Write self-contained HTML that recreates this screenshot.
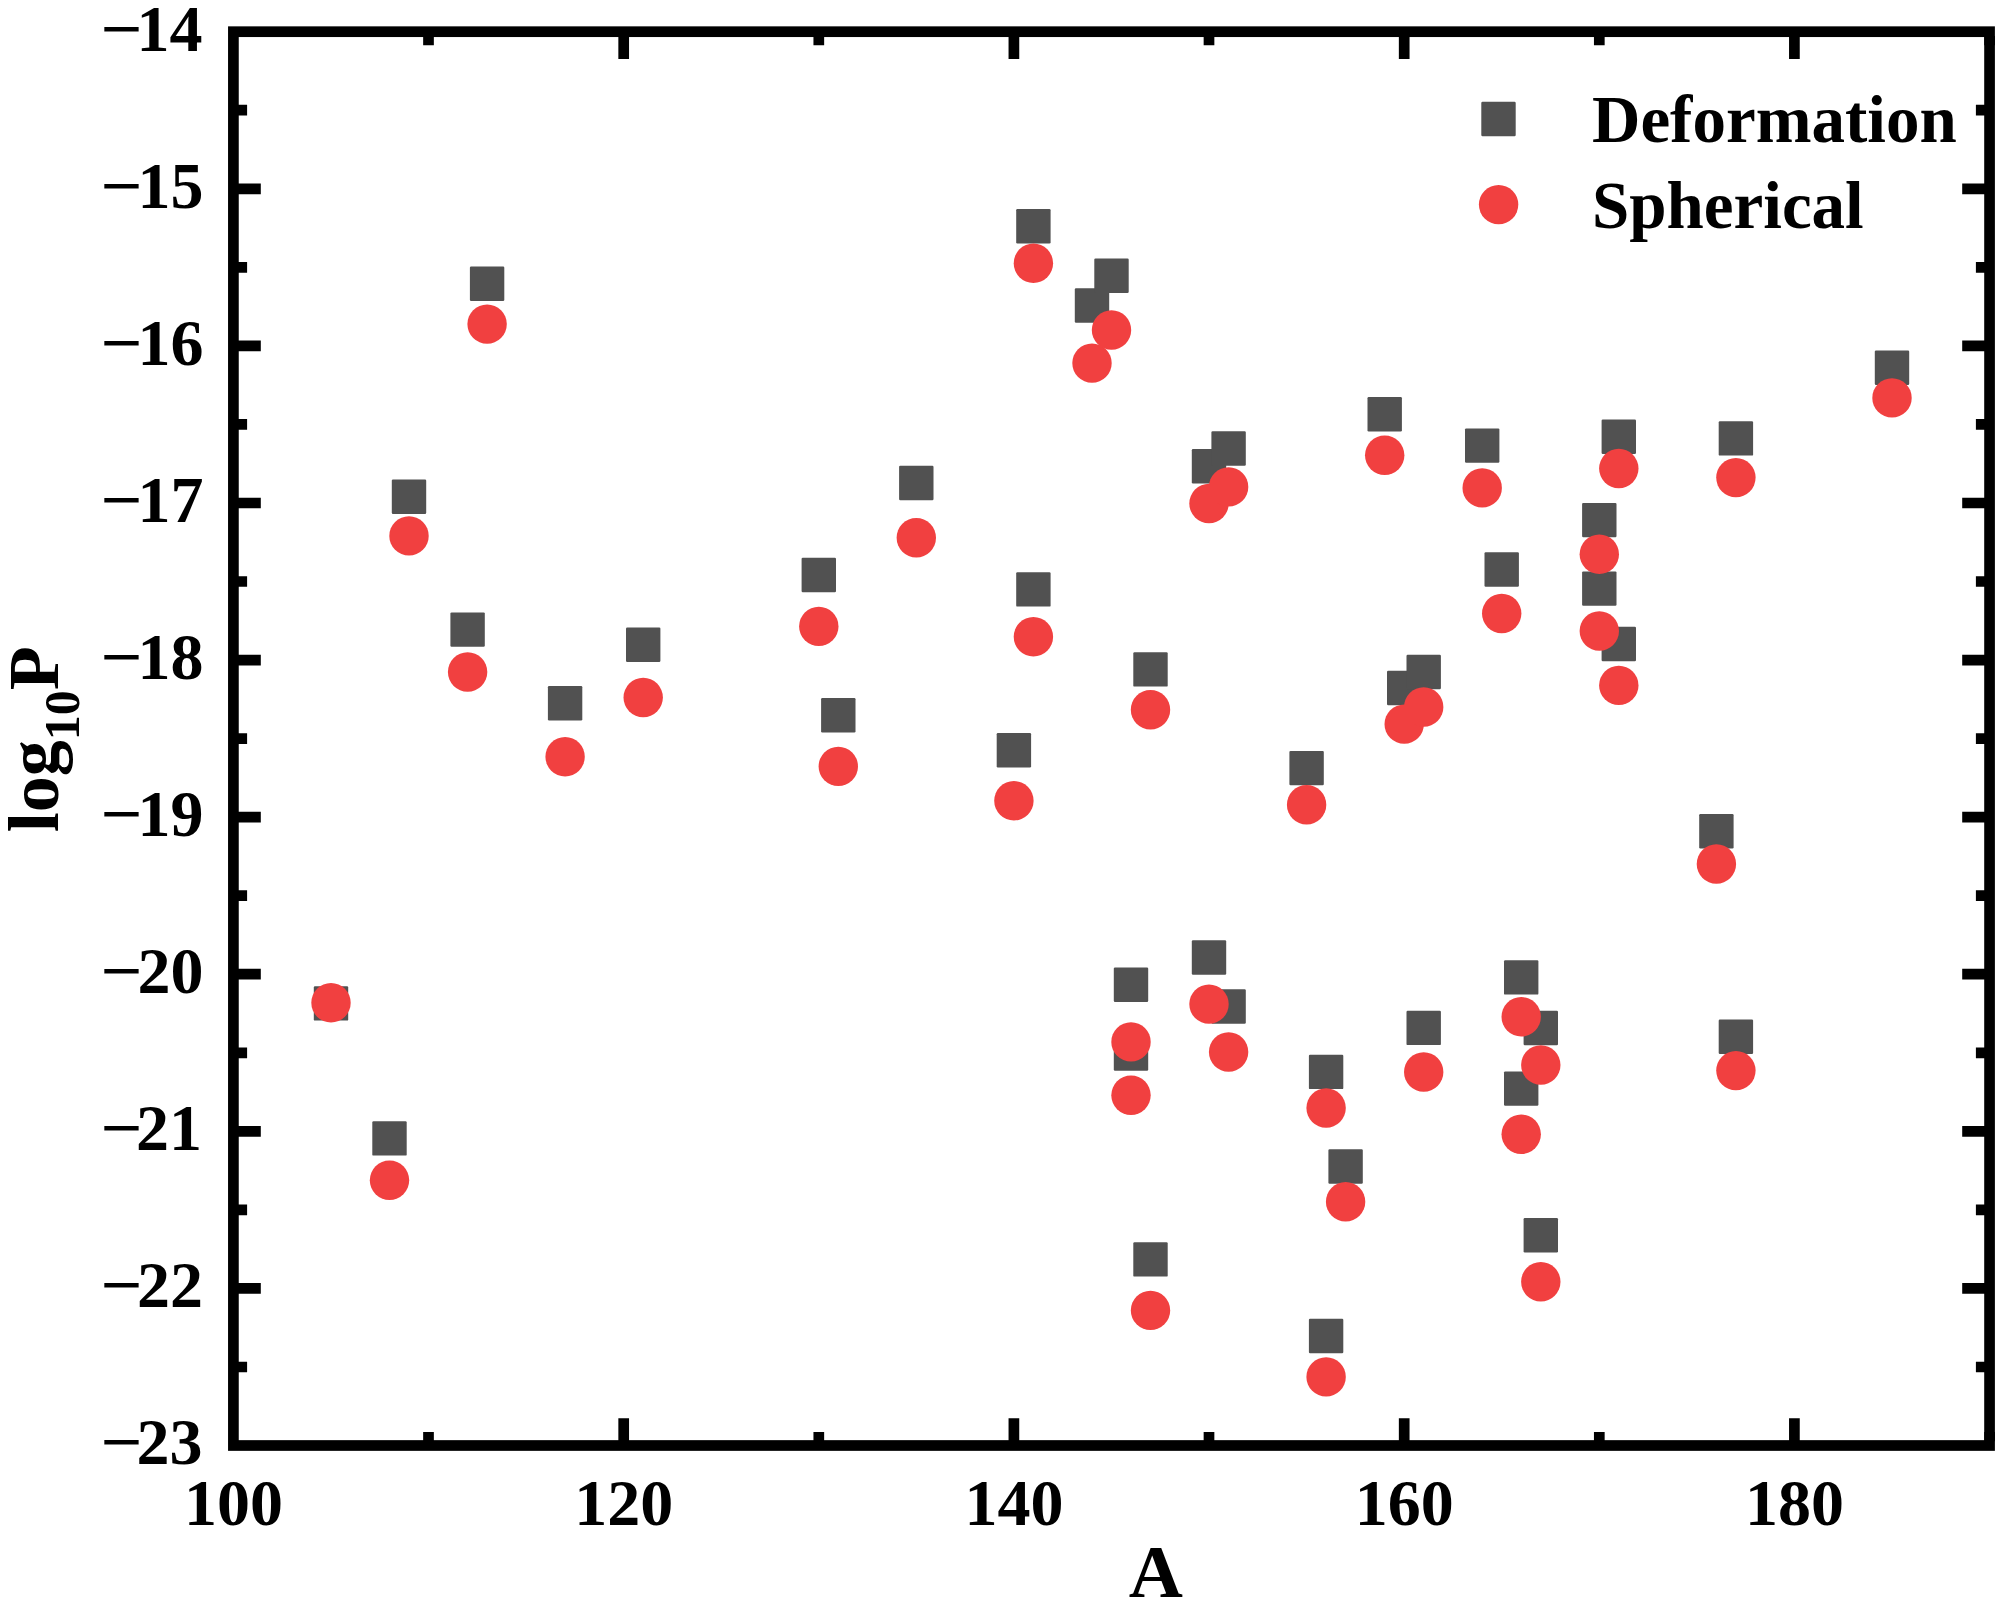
<!DOCTYPE html>
<html><head><meta charset="utf-8"><title>log10P vs A</title>
<style>
html,body{margin:0;padding:0;background:#fff;}
body{width:2005px;height:1605px;overflow:hidden;}
svg{display:block;}
text{font-family:"Liberation Serif","Times New Roman",serif;font-weight:bold;fill:#000;}
</style></head><body>
<svg width="2005" height="1605" viewBox="0 0 2005 1605">
<rect width="2005" height="1605" fill="#fff"/>
<g fill="#515151">
<rect x="313.8" y="986.2" width="34.4" height="34.4" rx="1.2"/>
<rect x="372.3" y="1121.2" width="34.4" height="34.4" rx="1.2"/>
<rect x="391.8" y="479.5" width="34.4" height="34.4" rx="1.2"/>
<rect x="450.4" y="612.4" width="34.4" height="34.4" rx="1.2"/>
<rect x="469.9" y="266.6" width="34.4" height="34.4" rx="1.2"/>
<rect x="547.9" y="686.0" width="34.4" height="34.4" rx="1.2"/>
<rect x="626.0" y="627.5" width="34.4" height="34.4" rx="1.2"/>
<rect x="801.6" y="557.8" width="34.4" height="34.4" rx="1.2"/>
<rect x="821.1" y="698.0" width="34.4" height="34.4" rx="1.2"/>
<rect x="899.1" y="465.8" width="34.4" height="34.4" rx="1.2"/>
<rect x="996.7" y="733.0" width="34.4" height="34.4" rx="1.2"/>
<rect x="1016.2" y="209.1" width="34.4" height="34.4" rx="1.2"/>
<rect x="1016.2" y="572.2" width="34.4" height="34.4" rx="1.2"/>
<rect x="1074.8" y="288.3" width="34.4" height="34.4" rx="1.2"/>
<rect x="1094.3" y="258.5" width="34.4" height="34.4" rx="1.2"/>
<rect x="1113.8" y="967.6" width="34.4" height="34.4" rx="1.2"/>
<rect x="1113.8" y="1036.3" width="34.4" height="34.4" rx="1.2"/>
<rect x="1133.3" y="652.2" width="34.4" height="34.4" rx="1.2"/>
<rect x="1133.3" y="1242.2" width="34.4" height="34.4" rx="1.2"/>
<rect x="1191.8" y="449.1" width="34.4" height="34.4" rx="1.2"/>
<rect x="1191.8" y="940.3" width="34.4" height="34.4" rx="1.2"/>
<rect x="1211.4" y="431.3" width="34.4" height="34.4" rx="1.2"/>
<rect x="1211.4" y="989.3" width="34.4" height="34.4" rx="1.2"/>
<rect x="1289.4" y="750.9" width="34.4" height="34.4" rx="1.2"/>
<rect x="1308.9" y="1054.7" width="34.4" height="34.4" rx="1.2"/>
<rect x="1308.9" y="1318.8" width="34.4" height="34.4" rx="1.2"/>
<rect x="1328.4" y="1149.3" width="34.4" height="34.4" rx="1.2"/>
<rect x="1367.5" y="397.1" width="34.4" height="34.4" rx="1.2"/>
<rect x="1387.0" y="670.8" width="34.4" height="34.4" rx="1.2"/>
<rect x="1406.5" y="654.8" width="34.4" height="34.4" rx="1.2"/>
<rect x="1406.5" y="1010.7" width="34.4" height="34.4" rx="1.2"/>
<rect x="1465.0" y="428.4" width="34.4" height="34.4" rx="1.2"/>
<rect x="1484.5" y="552.3" width="34.4" height="34.4" rx="1.2"/>
<rect x="1504.0" y="960.2" width="34.4" height="34.4" rx="1.2"/>
<rect x="1504.0" y="1071.4" width="34.4" height="34.4" rx="1.2"/>
<rect x="1523.6" y="1010.8" width="34.4" height="34.4" rx="1.2"/>
<rect x="1523.6" y="1218.1" width="34.4" height="34.4" rx="1.2"/>
<rect x="1582.1" y="502.9" width="34.4" height="34.4" rx="1.2"/>
<rect x="1582.1" y="571.4" width="34.4" height="34.4" rx="1.2"/>
<rect x="1601.6" y="419.5" width="34.4" height="34.4" rx="1.2"/>
<rect x="1601.6" y="626.8" width="34.4" height="34.4" rx="1.2"/>
<rect x="1699.2" y="814.1" width="34.4" height="34.4" rx="1.2"/>
<rect x="1718.7" y="421.2" width="34.4" height="34.4" rx="1.2"/>
<rect x="1718.7" y="1019.5" width="34.4" height="34.4" rx="1.2"/>
<rect x="1874.8" y="350.6" width="34.4" height="34.4" rx="1.2"/>
</g>
<g fill="#F14040">
<circle cx="331.0" cy="1002.8" r="19.7"/>
<circle cx="389.5" cy="1180.2" r="19.7"/>
<circle cx="409.0" cy="535.9" r="19.7"/>
<circle cx="467.6" cy="672.0" r="19.7"/>
<circle cx="487.1" cy="324.1" r="19.7"/>
<circle cx="565.1" cy="756.8" r="19.7"/>
<circle cx="643.2" cy="697.5" r="19.7"/>
<circle cx="818.8" cy="626.4" r="19.7"/>
<circle cx="838.3" cy="766.4" r="19.7"/>
<circle cx="916.3" cy="537.7" r="19.7"/>
<circle cx="1013.9" cy="800.8" r="19.7"/>
<circle cx="1033.4" cy="263.3" r="19.7"/>
<circle cx="1033.4" cy="636.8" r="19.7"/>
<circle cx="1092.0" cy="363.1" r="19.7"/>
<circle cx="1111.5" cy="330.0" r="19.7"/>
<circle cx="1131.0" cy="1041.9" r="19.7"/>
<circle cx="1131.0" cy="1095.2" r="19.7"/>
<circle cx="1150.5" cy="709.7" r="19.7"/>
<circle cx="1150.5" cy="1310.4" r="19.7"/>
<circle cx="1209.0" cy="503.5" r="19.7"/>
<circle cx="1209.0" cy="1004.1" r="19.7"/>
<circle cx="1228.6" cy="486.9" r="19.7"/>
<circle cx="1228.6" cy="1052.0" r="19.7"/>
<circle cx="1306.6" cy="804.7" r="19.7"/>
<circle cx="1326.1" cy="1108.0" r="19.7"/>
<circle cx="1326.1" cy="1376.9" r="19.7"/>
<circle cx="1345.6" cy="1201.8" r="19.7"/>
<circle cx="1384.7" cy="455.2" r="19.7"/>
<circle cx="1404.2" cy="724.1" r="19.7"/>
<circle cx="1423.7" cy="707.0" r="19.7"/>
<circle cx="1423.7" cy="1072.0" r="19.7"/>
<circle cx="1482.2" cy="487.9" r="19.7"/>
<circle cx="1501.7" cy="613.5" r="19.7"/>
<circle cx="1521.2" cy="1016.8" r="19.7"/>
<circle cx="1521.2" cy="1134.3" r="19.7"/>
<circle cx="1540.8" cy="1065.0" r="19.7"/>
<circle cx="1540.8" cy="1281.8" r="19.7"/>
<circle cx="1599.3" cy="554.3" r="19.7"/>
<circle cx="1599.3" cy="631.0" r="19.7"/>
<circle cx="1618.8" cy="468.5" r="19.7"/>
<circle cx="1618.8" cy="685.4" r="19.7"/>
<circle cx="1716.4" cy="864.0" r="19.7"/>
<circle cx="1735.9" cy="477.6" r="19.7"/>
<circle cx="1735.9" cy="1070.6" r="19.7"/>
<circle cx="1892.0" cy="397.9" r="19.7"/>
</g>
<path d="M237.8 110.2H247.1M1985.2 110.2H1975.9M237.8 188.8H260.8M1985.2 188.8H1962.2M237.8 267.3H247.1M1985.2 267.3H1975.9M237.8 345.9H260.8M1985.2 345.9H1962.2M237.8 424.4H247.1M1985.2 424.4H1975.9M237.8 503.0H260.8M1985.2 503.0H1962.2M237.8 581.5H247.1M1985.2 581.5H1975.9M237.8 660.1H260.8M1985.2 660.1H1962.2M237.8 738.6H247.1M1985.2 738.6H1975.9M237.8 817.1H260.8M1985.2 817.1H1962.2M237.8 895.7H247.1M1985.2 895.7H1975.9M237.8 974.2H260.8M1985.2 974.2H1962.2M237.8 1052.8H247.1M1985.2 1052.8H1975.9M237.8 1131.3H260.8M1985.2 1131.3H1962.2M237.8 1209.9H247.1M1985.2 1209.9H1975.9M237.8 1288.4H260.8M1985.2 1288.4H1962.2M237.8 1367.0H247.1M1985.2 1367.0H1975.9M428.5 1441.2V1431.9M428.5 36.0V45.3M623.7 1441.2V1418.2M623.7 36.0V59.0M818.8 1441.2V1431.9M818.8 36.0V45.3M1013.9 1441.2V1418.2M1013.9 36.0V59.0M1209.0 1441.2V1431.9M1209.0 36.0V45.3M1404.2 1441.2V1418.2M1404.2 36.0V59.0M1599.3 1441.2V1431.9M1599.3 36.0V45.3M1794.4 1441.2V1418.2M1794.4 36.0V59.0M1989.6 1441.2V1431.9M1989.6 36.0V45.3" stroke="#000" stroke-width="10.7" fill="none"/>
<rect x="233.40" y="31.70" width="1756.15" height="1413.80" fill="none" stroke="#000" stroke-width="10.7" stroke-linejoin="miter"/>
<text x="202.5" y="50.6" font-size="66" text-anchor="end">14</text>
<text x="100.5" y="50.6" font-size="66" textLength="42.1" lengthAdjust="spacingAndGlyphs">−</text>
<text x="203.6" y="207.7" font-size="66" text-anchor="end">15</text>
<text x="100.5" y="207.7" font-size="66" textLength="42.1" lengthAdjust="spacingAndGlyphs">−</text>
<text x="203.6" y="364.8" font-size="66" text-anchor="end">16</text>
<text x="100.5" y="364.8" font-size="66" textLength="42.1" lengthAdjust="spacingAndGlyphs">−</text>
<text x="203.6" y="521.9" font-size="66" text-anchor="end">17</text>
<text x="100.5" y="521.9" font-size="66" textLength="42.1" lengthAdjust="spacingAndGlyphs">−</text>
<text x="203.5" y="679.0" font-size="66" text-anchor="end">18</text>
<text x="100.5" y="679.0" font-size="66" textLength="42.1" lengthAdjust="spacingAndGlyphs">−</text>
<text x="203.4" y="836.0" font-size="66" text-anchor="end">19</text>
<text x="100.5" y="836.0" font-size="66" textLength="42.1" lengthAdjust="spacingAndGlyphs">−</text>
<text x="203.6" y="993.1" font-size="66" text-anchor="end">20</text>
<text x="100.5" y="993.1" font-size="66" textLength="42.1" lengthAdjust="spacingAndGlyphs">−</text>
<text x="201.9" y="1150.2" font-size="66" text-anchor="end">21</text>
<text x="100.5" y="1150.2" font-size="66" textLength="42.1" lengthAdjust="spacingAndGlyphs">−</text>
<text x="203.1" y="1307.3" font-size="66" text-anchor="end">22</text>
<text x="100.5" y="1307.3" font-size="66" textLength="42.1" lengthAdjust="spacingAndGlyphs">−</text>
<text x="202.4" y="1464.4" font-size="66" text-anchor="end">23</text>
<text x="100.5" y="1464.4" font-size="66" textLength="42.1" lengthAdjust="spacingAndGlyphs">−</text>
<text x="233.4" y="1525.2" font-size="66" text-anchor="middle">100</text>
<text x="623.7" y="1525.2" font-size="66" text-anchor="middle">120</text>
<text x="1013.9" y="1525.2" font-size="66" text-anchor="middle">140</text>
<text x="1404.2" y="1525.2" font-size="66" text-anchor="middle">160</text>
<text x="1794.4" y="1525.2" font-size="66" text-anchor="middle">180</text>
<text x="1155.8" y="1596.9" font-size="75" text-anchor="middle">A</text>
<text transform="translate(58.4 739.3) rotate(-90)" font-size="72" text-anchor="middle">log<tspan font-size="50" dy="20.5">10</tspan><tspan dy="-20.5">P</tspan></text>
<rect x="1481.3" y="101.8" width="34.4" height="34.4" rx="1.2" fill="#515151"/>
<circle cx="1498.6" cy="204.6" r="19.7" fill="#F14040"/>
<text x="1592" y="142.2" font-size="67">Deformation</text>
<text x="1592" y="227.8" font-size="67">Spherical</text>
</svg>
</body></html>
